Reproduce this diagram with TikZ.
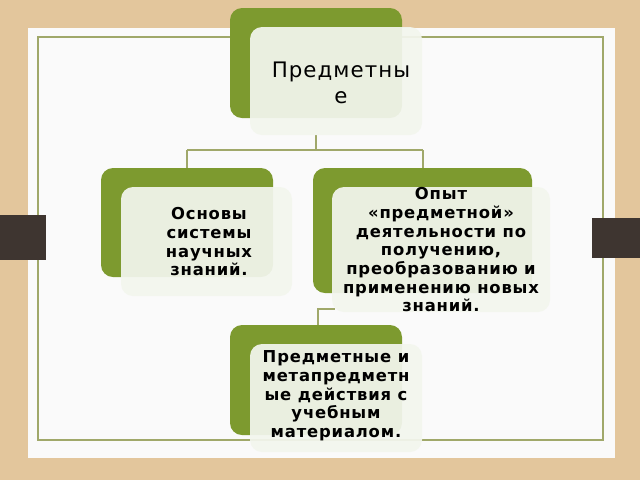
\documentclass[tikz,border=0pt]{standalone}
\usepackage{fontspec}
\setmainfont{DejaVu Sans}
\newfontfamily\spaced[LetterSpace=5]{DejaVu Sans}
\definecolor{bg}{HTML}{E3C69C}
\definecolor{olive}{HTML}{7D9A2F}
\definecolor{lineol}{HTML}{A0A86A}
\definecolor{card}{HTML}{F3F6EE}
\definecolor{tab}{HTML}{3E3530}
\begin{document}
\begin{tikzpicture}[x=0.75pt,y=-0.75pt,
  greenbox/.style={fill=olive,rounded corners=9pt},
  cardbox/.style={fill=card,fill opacity=0.93,rounded corners=9pt},
  txt/.style={align=center,font=\spaced\bfseries\fontsize{12.3}{14}\selectfont,text=black},
  conn/.style={draw=lineol,line width=0.9pt}]
\fill[bg] (0,0) rectangle (640,480);
\fill[white!96!gray] (28,28) rectangle (615,458);
\draw[lineol,line width=1pt] (38,37) rectangle (603,440);
\fill[tab] (0,215) rectangle (46,260);
\fill[tab] (592,218) rectangle (640,258);
% connectors
\coordinate (j1) at (316,150);
\coordinate (jl) at (187,150);
\coordinate (jr) at (423,150);
\coordinate (j2) at (318,309);
\coordinate (j3) at (335,309);
\draw[conn] (316,135) -- (j1) (jl) -- (jr) (jl) -- (187,168) (jr) -- (423,168);
\draw[conn] (318,325) -- (j2) -- (j3);
% top
\fill[greenbox] (230,8) rectangle (402,118);
\fill[cardbox] (250,27) rectangle (422,135);
\node[align=center,font=\spaced\fontsize{16}{20}\selectfont] (top) at (341,83) {Предметны\\е};
% left
\fill[greenbox] (101,168) rectangle (273,277);
\fill[cardbox] (121,187) rectangle (292,296);
\node[txt] (left) at (209,242) {Основы\\системы\\научных\\знаний.};
% right
\fill[greenbox] (313,168) rectangle (532,293);
\fill[cardbox] (332,187) rectangle (550,312);
\node[txt] (right) at (441,250) {Опыт\\«предметной»\\деятельности по\\получению,\\преобразованию и\\применению новых\\знаний.};
% bottom
\fill[greenbox] (230,325) rectangle (402,435);
\fill[cardbox] (250,344) rectangle (422,452);
\node[txt] (bot) at (336,396) {Предметные и\\метапредметн\\ые действия с\\учебным\\материалом.};
\end{tikzpicture}
\end{document}
